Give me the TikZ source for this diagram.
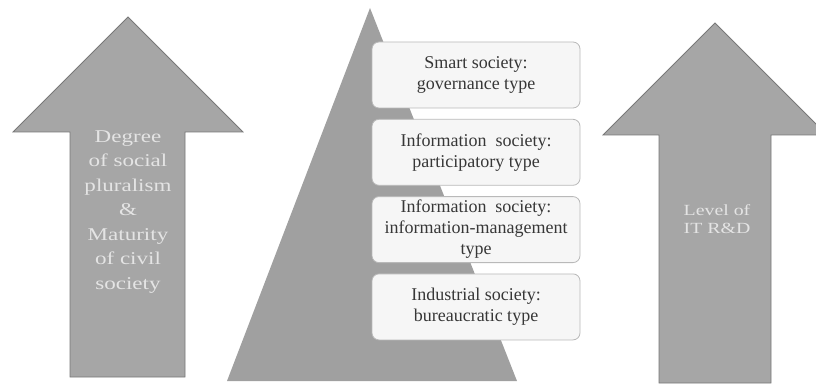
\documentclass[tikz,border=0pt]{standalone}
\usepackage{fontspec}
\setmainfont{Liberation Serif}
\newfontfamily\widefont[FakeStretch=1.28]{Liberation Serif}
\usetikzlibrary{positioning}
\definecolor{arrowfill}{RGB}{166,166,166}
\definecolor{arrowline}{RGB}{120,120,120}
\definecolor{pyrfill}{RGB}{160,160,160}
\definecolor{boxfill}{RGB}{246,246,246}
\definecolor{boxline}{RGB}{185,185,185}
\definecolor{boxtext}{RGB}{55,55,55}
\definecolor{arrowtext}{RGB}{228,228,228}

\begin{document}
\begin{tikzpicture}[x=1pt,y=-1pt,node distance=10.5pt,
    bigarrow/.style={fill=arrowfill,draw=arrowline,line width=0.8pt},
    level/.style={draw=boxline,fill=boxfill,rounded corners=7pt,line width=0.8pt,
      minimum width=208pt,minimum height=66pt,align=center,text=boxtext,
      font=\fontsize{18}{21}\selectfont,inner sep=1pt},
    arrowlabel/.style={align=center,text=arrowtext}]
   \useasboundingbox (0,0) rectangle (816,385);

   % pyramid behind the levels
   \fill[pyrfill] (227,381) -- (370,8) -- (517,381) -- cycle;

   % arrows
   \draw[bigarrow] (70,377) -- (70,132) -- (13,132) -- (128,17) -- (243,132)
      -- (185,132) -- (185,377) -- cycle;
   \draw[bigarrow] (659,383) -- (659,135) -- (603,135) -- (715,23) -- (827,135)
      -- (771,135) -- (771,383) -- cycle;

   \node[arrowlabel,font=\widefont\fontsize{18}{24.5}\selectfont] (pluralism) at (128,212)
      {Degree\\of social\\pluralism\\\&\\Maturity\\of civil\\society};
   \node[arrowlabel,font=\widefont\fontsize{15.5}{17.5}\selectfont] (rnd) at (717,219)
      {Level of\\IT R\&D};

   % levels of society
   \node[level] (smart) at (476,75) {Smart society:\\governance type};
   \node[level] (particip) [below=of smart] {Information\enspace society:\\participatory type};
   \node[level] (infomgmt) [below=of particip] {Information\enspace society:\\information-management\\type};
   \node[level] (industrial) [below=of infomgmt] {Industrial society:\\bureaucratic type};
\end{tikzpicture}
\end{document}
